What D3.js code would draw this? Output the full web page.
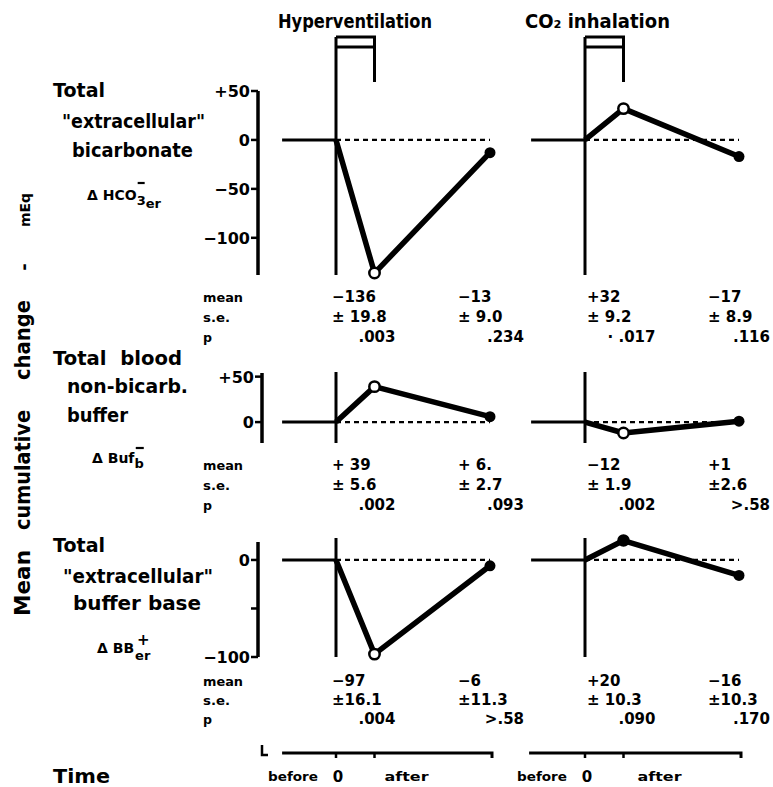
<!DOCTYPE html>
<html><head><meta charset="utf-8">
<script src="https://cdn.jsdelivr.net/npm/d3@7"></script>
<style>
html,body{margin:0;padding:0;background:#fff;}
svg text{font-family:"DejaVu Sans","Lato",sans-serif;font-weight:700;fill:#000;white-space:pre;}
</style></head>
<body>
<svg id="c" width="773" height="787"></svg>
<script>
// ---------------- data ----------------
const conditions = ["Hyperventilation", "CO₂ inhalation"];
const timePoints = [0, 1, 4];            // start, end of stimulus, after
const timeBefore = -1.4;                  // start of the baseline
const timeLabels = ["before", "0", "after"];

const hyperBicarb = [0, -136, -13];
const hyperBuf    = [0, 39, 6];
const hyperBB     = [0, -97, -6];
const co2Bicarb   = [0, 32, -17];
const co2Buf      = [0, -12, 1];
const co2BB       = [0, 20, -16];

const hyperMeanText = [["−136", "−13"], ["+ 39", "+ 6."], ["−97", "−6"]];
const hyperSEText   = [["± 19.8", "± 9.0"], ["± 5.6", "± 2.7"], ["±16.1", "±11.3"]];
const hyperPText    = [[".003", ".234"], [".002", ".093"], [".004", ">.58"]];
const co2MeanText   = [["+32", "−17"], ["−12", "+1"], ["+20", "−16"]];
const co2SEText     = [["± 9.2", "± 8.9"], ["± 1.9", "±2.6"], ["± 10.3", "±10.3"]];
const co2PText      = [["· .017", ".116"], [".002", ">.58"], [".090", ".170"]];

const rowTicks      = [[50, 0, -50, -100], [50, 0], [0, -50, -100]];
const rowTickLabels = [["+50", "0", "−50", "−100"], ["+50", "0"], ["0", "", "−100"]];
const rowTitles = [
  ["Total", "\"extracellular\"", "bicarbonate"],
  ["Total  blood", "non-bicarb.", "buffer"],
  ["Total", "\"extracellular\"", "buffer base"]
];
const statNames = ["mean", "s.e.", "p"];
const yAxisWords = ["Mean", "cumulative", "change", "-", "mEq"];

// ---------------- layout ----------------
const svg = d3.select("#c");
const hyperSeries = [hyperBicarb, hyperBuf, hyperBB];
const co2Series = [co2Bicarb, co2Buf, co2BB];

const xH = d3.scaleLinear().domain([0, 4]).range([336, 490]);
const xC = d3.scaleLinear().domain([0, 4]).range([585, 739]);
const xs = [xH, xC];

const rows = [
  {y: d3.scaleLinear().domain([-138, 50]).range([275, 91]), axisX: 258, axTop: 91, axBot: 275, vTop: 37, vBot: 275,
   statY: [302, 322, 342], titleY: [97, 128, 157], titleX: [53, 62, 72], titleW: [52, 143, 121]},
  {y: d3.scaleLinear().domain([-23, 54]).range([443, 373]), axisX: 262, axTop: 373, axBot: 443, vTop: 372, vBot: 443,
   statY: [470, 490, 510], titleY: [365, 393, 422], titleX: [53, 67, 67], titleW: [129, 121, 61]},
  {y: d3.scaleLinear().domain([-100, 18.5]).range([657, 542]), axisX: 258, axTop: 542, axBot: 657, vTop: 538, vBot: 657,
   statY: [686, 705, 724], titleY: [552, 583, 610], titleX: [53, 63, 73], titleW: [52, 150, 128]}
];

function txt(g, x, y, s, size, opts = {}) {
  const t = g.append("text").attr("x", x).attr("y", y).attr("font-size", size).text(s);
  if (opts.anchor) t.attr("text-anchor", opts.anchor);
  if (opts.w) t.attr("textLength", opts.w).attr("lengthAdjust", "spacingAndGlyphs");
  return t;
}

// Column titles
txt(svg, 278, 28, conditions[0], 20, {w: 154});
txt(svg, 525, 28, conditions[1], 20, {w: 145});

// Rotated y-axis label words
const yWordCenters = [583, 470, 340, 267, 210];
const yWordLens = [66, 120, 80, 0, 34];
const yWordSizes = [21, 21, 21, 18, 14];
yAxisWords.forEach((w, i) => {
  const t = svg.append("text").attr("transform", `translate(30,${yWordCenters[i]}) rotate(-90)`)
    .attr("text-anchor", "middle").attr("font-size", yWordSizes[i]).text(w);
  if (yWordLens[i]) t.attr("textLength", yWordLens[i]).attr("lengthAdjust", "spacingAndGlyphs");
});

rows.forEach((r, ri) => {
  const g = svg.append("g");
  rowTitles[ri].forEach((line, li) => txt(g, r.titleX[li], r.titleY[li], line, 20, {w: r.titleW[li]}));

  g.append("line").attr("x1", r.axisX).attr("x2", r.axisX).attr("y1", r.axTop).attr("y2", r.axBot)
    .attr("stroke", "#000").attr("stroke-width", 3.5);
  rowTicks[ri].forEach((tv, ti) => {
    const yy = r.y(tv);
    g.append("line").attr("x1", r.axisX - 7).attr("x2", r.axisX).attr("y1", yy).attr("y2", yy)
      .attr("stroke", "#000").attr("stroke-width", 2.5);
    if (rowTickLabels[ri][ti]) txt(g, r.axisX - 8, yy + 6, rowTickLabels[ri][ti], 16, {anchor: "end"});
  });

  [hyperSeries, co2Series].forEach((series, ci) => {
    const x = xs[ci];
    const vals = series[ri];
    const y = r.y;
    g.append("line").attr("x1", x(timeBefore)).attr("x2", x(0)).attr("y1", y(0)).attr("y2", y(0))
      .attr("stroke", "#000").attr("stroke-width", 3);
    g.append("line").attr("x1", x(0)).attr("x2", x(4)).attr("y1", y(0)).attr("y2", y(0))
      .attr("stroke", "#000").attr("stroke-width", 2.2).attr("stroke-dasharray", "5,4");
    g.append("line").attr("x1", x(0)).attr("x2", x(0)).attr("y1", r.vTop).attr("y2", r.vBot)
      .attr("stroke", "#000").attr("stroke-width", 3);
    if (ri === 0) {
      g.append("path").attr("d", `M${x(0)},${r.vTop}H${x(1)}V82M${x(0)},47H${x(1)}`)
        .attr("fill", "none").attr("stroke", "#000").attr("stroke-width", 3);
    }
    const pts = timePoints.map((t, i) => [x(t), y(vals[i])]);
    g.append("path").attr("d", d3.line()(pts)).attr("fill", "none").attr("stroke", "#000")
      .attr("stroke-width", 5.5).attr("stroke-linejoin", "round");
    const firstFilled = (ri === 2 && ci === 1);
    g.append("circle").attr("cx", pts[1][0]).attr("cy", pts[1][1]).attr("r", firstFilled ? 5 : 5.2)
      .attr("fill", firstFilled ? "#000" : "#fff").attr("stroke", "#000").attr("stroke-width", 2.5);
    g.append("circle").attr("cx", pts[2][0]).attr("cy", pts[2][1]).attr("r", 5.5).attr("fill", "#000");

    const meanT = ci === 0 ? hyperMeanText : co2MeanText;
    const seT = ci === 0 ? hyperSEText : co2SEText;
    const pT = ci === 0 ? hyperPText : co2PText;
    const col1 = ci === 0 ? x(0) - 4 : x(0) + 2;
    const col2 = ci === 0 ? x(4) - 32 : x(4) - 31;
    const p1 = ci === 0 ? x(1) + 21 : x(1) + 32;
    const p2 = ci === 0 ? x(4) + 34 : x(4) + 31;
    txt(g, col1, r.statY[0], meanT[ri][0], 15);
    txt(g, col1, r.statY[1], seT[ri][0], 15);
    txt(g, p1, r.statY[2], pT[ri][0], 15, {anchor: "end"});
    txt(g, col2, r.statY[0], meanT[ri][1], 15);
    txt(g, col2, r.statY[1], seT[ri][1], 15);
    txt(g, p2, r.statY[2], pT[ri][1], 15, {anchor: "end"});
  });

  statNames.forEach((s, si) => txt(g, 203, r.statY[si], s, 12, {w: s === "mean" ? 40 : (s === "s.e." ? 27 : 9)}));
});

// chemical symbols
function sym(x, y, main, sub2) {
  const t = svg.append("text").attr("x", x).attr("y", y).attr("font-size", 14);
  t.append("tspan").text("Δ ");
  t.append("tspan").text(main);
  if (sub2) t.append("tspan").attr("font-size", 13).attr("dy", 5).text(sub2);
  const sx = t.node().getComputedTextLength();
  return {t, sx};
}
{
  const s1 = sym(87, 200, "HCO", "3");
  s1.t.append("tspan").attr("font-size", 13).attr("dy", 3).text("er");
  svg.append("line").attr("x1", 87 + s1.sx - 8).attr("x2", 87 + s1.sx - 1).attr("y1", 183).attr("y2", 183)
    .attr("stroke", "#000").attr("stroke-width", 2.2);

  const s2 = sym(92, 463, "Buf", "b");
  svg.append("line").attr("x1", 92 + s2.sx - 8).attr("x2", 92 + s2.sx).attr("y1", 448).attr("y2", 448)
    .attr("stroke", "#000").attr("stroke-width", 2.2);

  const s3 = sym(97, 653, "BB", null);
  const bx = 97 + s3.sx;
  svg.append("text").attr("x", bx + 1).attr("y", 660).attr("font-size", 13).text("er");
  svg.append("text").attr("x", bx + 3).attr("y", 645).attr("font-size", 15).text("+");
}

// time axes
const timeY = 753;
svg.append("path").attr("d", `M262,745V755H268`).attr("fill", "none").attr("stroke", "#000").attr("stroke-width", 2.5);
xs.forEach((x, ci) => {
  const x0 = x(timeBefore) + (ci === 0 ? 0 : -2), x1 = x(4) + 2;
  svg.append("path").attr("d", `M${x0},${timeY}H${x1}V${timeY + 5}`).attr("fill", "none")
    .attr("stroke", "#000").attr("stroke-width", 3);
  timePoints.slice(0, 2).forEach(t => {
    svg.append("line").attr("x1", x(t)).attr("x2", x(t)).attr("y1", timeY).attr("y2", timeY + 5)
      .attr("stroke", "#000").attr("stroke-width", 2.5);
  });
  txt(svg, x(0) - 18, 781, timeLabels[0], 13, {anchor: "end", w: 50});
  txt(svg, x(0) + 2, 782, timeLabels[1], 15, {anchor: "middle"});
  txt(svg, x(1) + (ci === 0 ? 10 : 14), 781, timeLabels[2], 13, {w: 44});
});
txt(svg, 53, 783, "Time", 20, {w: 57});
</script>
</body></html>
